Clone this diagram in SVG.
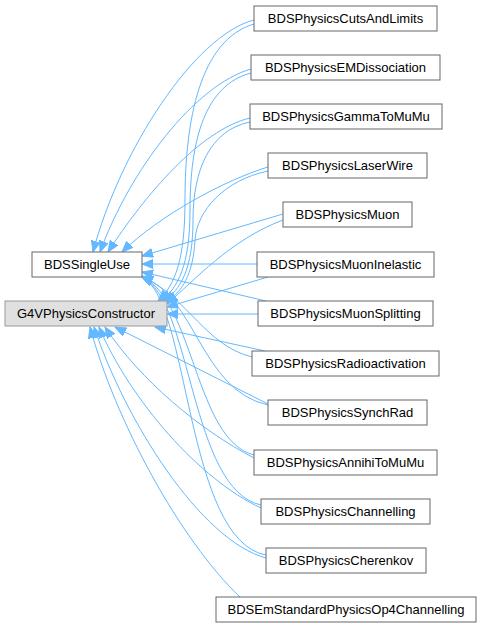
<svg xmlns="http://www.w3.org/2000/svg" width="481" height="628" viewBox="0 0 481 628">
<style>
.n rect{fill:#ffffff;stroke:#666666;stroke-width:1}
.g rect{fill:#e0e0e0;stroke:#999999;stroke-width:1}
text{font-family:"Liberation Sans",Arial,sans-serif;font-size:13px;fill:#000;text-anchor:middle}
.e path{fill:none;stroke:#63b8ff;stroke-width:1;marker-end:url(#a)}
</style>
<defs>
<marker id="a" markerUnits="userSpaceOnUse" markerWidth="12" markerHeight="10" refX="11" refY="4.5" orient="auto">
<path d="M0,0 L11,4.5 L0,9 z" fill="#63b8ff" stroke="#63b8ff"/>
</marker>
</defs>
<rect width="481" height="628" fill="#fff"/>
<g class="e" id="edges">
<path d="M254,20 C195,35 120,150 93,252"/>
<path d="M251,69 C195,85 130,170 100,252"/>
<path d="M250,118 C200,130 145,195 108,252"/>
<path d="M268,167 C225,180 160,215 122,252"/>
<path d="M283,214 L142,256"/>
<path d="M257,264 L142,264"/>
<path d="M266,301 L142,272"/>
<path d="M252,357 C205,345 190,300 142,276"/>
<path d="M268,405 C200,390 196,295 142,277"/>
<path d="M254,455 C195,440 194,300 142,277"/>
<path d="M261,505 C190,490 192,300 142,277"/>
<path d="M266,555 C185,540 190,300 142,277"/>
<path d="M254,24 C200,40 185,120 185,200 C185,260 175,285 158,301"/>
<path d="M251,73 C205,85 190,140 190,210 C190,265 178,288 161,301"/>
<path d="M250,122 C210,130 193,170 193,220 C193,270 180,290 164,301"/>
<path d="M268,171 C225,180 197,210 195,240 C193,275 182,292 166,302"/>
<path d="M283,220 C230,240 195,280 167,304"/>
<path d="M268,277 L167,307"/>
<path d="M258,314 L167,314"/>
<path d="M265,351 L155,327"/>
<path d="M268,404 L115,327"/>
<path d="M254,458 C200,430 140,380 105,327"/>
<path d="M261,508 C200,480 130,400 99,327"/>
<path d="M266,558 C200,540 125,420 94,327"/>
<path d="M240,597 C180,540 115,420 90,327"/>
</g>
<g id="BDSSingleUse" class="n"><rect x="32" y="252" width="110" height="25"/><text x="87" y="269">BDSSingleUse</text></g>
<g id="G4VPhysicsConstructor" class="g"><rect x="5" y="301" width="162" height="25"/><text x="86" y="318">G4VPhysicsConstructor</text></g>
<g id="BDSPhysicsCutsAndLimits" class="n"><rect x="254" y="6" width="183" height="25"/><text x="345.5" y="23">BDSPhysicsCutsAndLimits</text></g>
<g id="BDSPhysicsEMDissociation" class="n"><rect x="251" y="55" width="189" height="25"/><text x="345.5" y="72">BDSPhysicsEMDissociation</text></g>
<g id="BDSPhysicsGammaToMuMu" class="n"><rect x="250" y="104" width="192" height="25"/><text x="346" y="121">BDSPhysicsGammaToMuMu</text></g>
<g id="BDSPhysicsLaserWire" class="n"><rect x="268" y="153" width="159" height="25"/><text x="347.5" y="170">BDSPhysicsLaserWire</text></g>
<g id="BDSPhysicsMuon" class="n"><rect x="283" y="202" width="129" height="25"/><text x="347.5" y="219">BDSPhysicsMuon</text></g>
<g id="BDSPhysicsMuonInelastic" class="n"><rect x="257" y="252" width="177" height="25"/><text x="345.5" y="269">BDSPhysicsMuonInelastic</text></g>
<g id="BDSPhysicsMuonSplitting" class="n"><rect x="258" y="301" width="175" height="25"/><text x="345.5" y="318">BDSPhysicsMuonSplitting</text></g>
<g id="BDSPhysicsRadioactivation" class="n"><rect x="252" y="351" width="187" height="25"/><text x="345.5" y="368">BDSPhysicsRadioactivation</text></g>
<g id="BDSPhysicsSynchRad" class="n"><rect x="268" y="400" width="159" height="25"/><text x="347.5" y="417">BDSPhysicsSynchRad</text></g>
<g id="BDSPhysicsAnnihiToMuMu" class="n"><rect x="254" y="450" width="183" height="25"/><text x="345.5" y="467">BDSPhysicsAnnihiToMuMu</text></g>
<g id="BDSPhysicsChannelling" class="n"><rect x="261" y="499" width="169" height="25"/><text x="345.5" y="516">BDSPhysicsChannelling</text></g>
<g id="BDSPhysicsCherenkov" class="n"><rect x="266" y="548" width="160" height="25"/><text x="346" y="565">BDSPhysicsCherenkov</text></g>
<g id="BDSEmStandardPhysicsOp4Channelling" class="n"><rect x="216" y="597" width="260" height="25"/><text x="346" y="614">BDSEmStandardPhysicsOp4Channelling</text></g>
</svg>
